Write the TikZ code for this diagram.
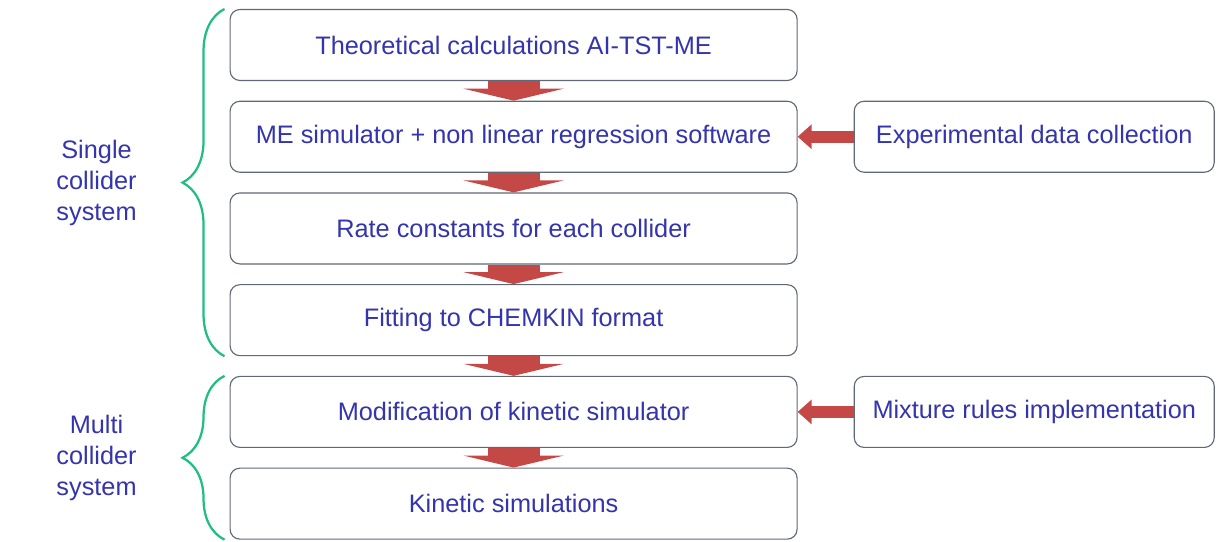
\documentclass[tikz,border=0pt]{standalone}
\usepackage{fontspec}
\setmainfont{Liberation Sans}
\usepackage{xcolor}
\usetikzlibrary{arrows.meta,positioning,calc,decorations.pathreplacing}

\definecolor{txtblue}{RGB}{52,52,172}
\definecolor{boxgray}{RGB}{96,104,120}
\definecolor{arrred}{RGB}{196,72,70}
\definecolor{brgreen}{RGB}{32,190,130}

\begin{document}
\begin{tikzpicture}[
  box/.style={draw=boxgray, rectangle, rounded corners=7pt,
              fill=white, text=txtblue, line width=0.8pt,
              font=\fontsize{18}{22}\selectfont,
              minimum width=14.175cm, minimum height=1.775cm,
              align=center, inner sep=3pt},
  sidebox/.style={box, minimum width=9cm},
  flow/.style={-{Triangle[width=2.5cm,length=0.3cm]}, line width=1.3cm, draw=arrred},
  feed/.style={-{Triangle[width=0.6cm,length=0.35cm]}, line width=0.3cm, draw=arrred},
  brc/.style={draw=brgreen, line width=1.6pt, decorate,
              decoration={brace, amplitude=1.05cm}},
  grp/.style={text=txtblue, font=\fontsize{18}{22}\selectfont, align=center},
  node distance=0.49cm
]
\useasboundingbox (0,0) rectangle (30.45,-13.525);

\node[box] (b1) at (12.84,-1.125) {Theoretical calculations AI-TST-ME};
\node[box, below=of b1] (b2) {ME simulator + non linear regression software};
\node[box, below=of b2] (b3) {Rate constants for each collider};
\node[box, below=of b3] (b4) {Fitting to CHEMKIN format};
\node[box, below=of b4] (b5) {Modification of kinetic simulator};
\node[box, below=of b5] (b6) {Kinetic simulations};

\node[sidebox, right=1.4cm of b2] (exp) {Experimental data collection};
\node[sidebox, right=1.4cm of b5] (mix) {Mixture rules implementation};

\draw[flow] (b1) -- (b2);
\draw[flow] (b2) -- (b3);
\draw[flow] (b3) -- (b4);
\draw[flow] (b4) -- (b5);
\draw[flow] (b5) -- (b6);

\draw[feed] (exp) -- (b2);
\draw[feed] (mix) -- (b5);

% groups
\draw[brc] ([xshift=-0.125cm]b4.south west) -- ([xshift=-0.125cm]b1.north west);
\draw[brc] ([xshift=-0.125cm]b6.south west) -- ([xshift=-0.125cm]b5.north west);

\node[grp] (single) at ($(b1.north west)!0.5!(b4.south west)+(-3.325,0)$) {Single\\collider\\system};
\node[grp] (multi) at ($(b5.north west)!0.5!(b6.south west)+(-3.325,0)$) {Multi\\collider\\system};
\end{tikzpicture}
\end{document}
